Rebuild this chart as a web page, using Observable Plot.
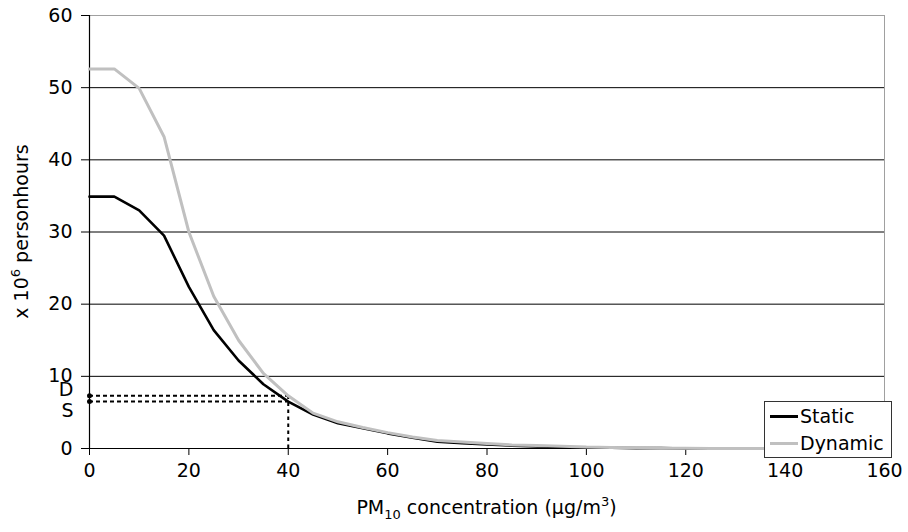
<!DOCTYPE html>
<html>
<head>
<meta charset="utf-8">
<script src="https://cdn.jsdelivr.net/npm/d3@7"></script>
<script src="https://cdn.jsdelivr.net/npm/@observablehq/plot@0.6"></script>
<style>
  html, body { margin: 0; padding: 0; background: #fff; }
  #wrap { position: relative; width: 908px; height: 532px; font-family: "DejaVu Sans", Verdana, sans-serif; }
  #legend { position: absolute; left: 764px; top: 401px; width: 126px; height: 55px; border: 1px solid #333; background: #fff; font-size: 19px; color: #000; }
  .item { position: absolute; left: 5px; height: 22px; display: flex; align-items: center; }
  .swatch { width: 28px; height: 0; margin-right: 2px; }
</style>
</head>
<body>
<div id="wrap"></div>
<script>
// concentration (µg/m³)
const concentration = [0,5,10,15,20,25,30,35,40,45,50,55,60,65,70,75,80,85,90,95,100,105,110,115,120,125,130,135,140,145,150,155];
// x 10^6 personhours
const staticHours  = [34.9,34.9,33.0,29.5,22.4,16.4,12.2,8.9,6.5,4.7,3.5,2.8,2.1,1.5,0.95,0.75,0.55,0.4,0.3,0.2,0.15,0.1,0.05,0.05,0,0,0,0,0,0,0,0];
const dynamicHours = [52.6,52.6,49.9,43.2,30.0,21.1,15.0,10.4,7.3,4.9,3.7,2.9,2.2,1.6,1.1,0.9,0.7,0.5,0.4,0.3,0.2,0.15,0.1,0.05,0.05,0,0,0,0,0,0,0];
const seriesNames = ["Static", "Dynamic"];
const seriesColors = ["#000000", "#c0c0c0"];
const threshold = 40;              // limit value
const D = 7.3;                     // dynamic value at limit
const S = 6.5;                     // static value at limit
const xTicks = [0,20,40,60,80,100,120,140,160];
const yTicks = [0,10,20,30,40,50,60];
const gridValues = [10,20,30,40,50];

const staticData = concentration.map((c,i) => ({c, v: staticHours[i]}));
const dynamicData = concentration.map((c,i) => ({c, v: dynamicHours[i]}));

const font = "DejaVu Sans, Verdana, sans-serif";
const fs = 19;

const chart = Plot.plot({
  width: 908,
  height: 532,
  marginLeft: 89,
  marginRight: 24,
  marginTop: 15,
  marginBottom: 84,
  style: { fontFamily: font, fontSize: fs + "px", color: "#000", background: "#fff" },
  x: { domain: [0,160] },
  y: { domain: [0,60] },
  marks: [
    Plot.frame({ stroke: "#a0a0a0", strokeWidth: 1 }),
    Plot.ruleY(gridValues, { stroke: "#000", strokeWidth: 1 }),
    Plot.axisX({ ticks: xTicks, tickSize: 7, tickPadding: 8, label: null, stroke: "#000", strokeOpacity: 1, fontSize: fs }),
    Plot.axisY({ ticks: yTicks, tickSize: 8, tickPadding: 9, label: null, stroke: "#000", strokeOpacity: 1, fontSize: fs }),
    Plot.ruleX([0], { stroke: "#000", strokeWidth: 1.2 }),
    Plot.ruleY([0], { stroke: "#000", strokeWidth: 1.2 }),
    Plot.ruleY([D, S], { x1: 0, x2: threshold, stroke: "#000", strokeWidth: 2, strokeDasharray: "4,3" }),
    Plot.ruleX([threshold], { y1: 0, y2: D, stroke: "#000", strokeWidth: 2, strokeDasharray: "3.5,3.5" }),
    Plot.line(staticData, { x: "c", y: "v", stroke: seriesColors[0], strokeWidth: 2.6, strokeLinejoin: "miter" }),
    Plot.line(dynamicData, { x: "c", y: "v", stroke: seriesColors[1], strokeWidth: 3, strokeLinejoin: "miter" }),
    Plot.dot([D, S], { x: () => 0, y: d => d, r: 2.5, fill: "#000", stroke: null }),
    Plot.text([D], { x: () => 0, y: d => d, text: () => "D", dx: -16, dy: -6, textAnchor: "end", fontSize: fs, fill: "#000" }),
    Plot.text([S], { x: () => 0, y: d => d, text: () => "S", dx: -16, dy: 9, textAnchor: "end", fontSize: fs, fill: "#000" })
  ]
});

const wrap = document.getElementById("wrap");
wrap.appendChild(chart);

// axis titles with sub/superscripts
const svg = d3.select(chart);
const xl = svg.append("text")
  .attr("x", (89 + 884) / 2).attr("y", 514)
  .attr("text-anchor", "middle").attr("font-size", fs).attr("fill", "#000");
xl.append("tspan").text("PM");
xl.append("tspan").attr("font-size", 13).attr("dy", 5).text("10");
xl.append("tspan").attr("dy", -5).text(" concentration (µg/m");
xl.append("tspan").attr("font-size", 13).attr("dy", -8).text("3");
xl.append("tspan").attr("dy", 8).text(")");

const yl = svg.append("text")
  .attr("transform", `translate(28,${(15 + 448) / 2}) rotate(-90)`)
  .attr("text-anchor", "middle").attr("font-size", fs).attr("fill", "#000");
yl.append("tspan").text("x 10");
yl.append("tspan").attr("font-size", 13).attr("dy", -8).text("6");
yl.append("tspan").attr("dy", 8).text(" personhours");

// legend
const legend = document.createElement("div");
legend.id = "legend";
seriesNames.forEach((name, i) => {
  const item = document.createElement("div");
  item.className = "item";
  item.style.top = (i === 0 ? 3 : 30) + "px";
  const sw = document.createElement("div");
  sw.className = "swatch";
  sw.style.borderTop = `3px solid ${seriesColors[i]}`;
  item.appendChild(sw);
  const t = document.createElement("span");
  t.textContent = name;
  item.appendChild(t);
  legend.appendChild(item);
});
wrap.appendChild(legend);
</script>
</body>
</html>
